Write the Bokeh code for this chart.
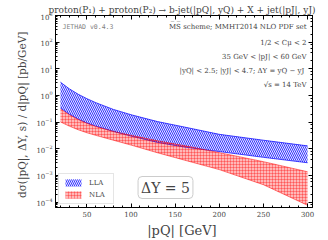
from bokeh.plotting import figure
from bokeh.models import (Range1d, LinearAxis, LogAxis, Label, Legend, LegendItem,
                          FixedTicker, Title)
from bokeh.embed import file_html
from bokeh.resources import INLINE

# ---- data ----
pt = [20, 30, 40, 50, 60, 80, 100, 130, 160, 200, 250, 300]
lla_hi = [3.16, 1.78, 1.12, 0.76, 0.54, 0.30, 0.19, 0.105, 0.066, 0.035, 0.021, 0.0129]
lla_lo = [0.34, 0.20, 0.13, 0.093, 0.071, 0.045, 0.030, 0.0174, 0.0117, 0.0079, 0.0048, 0.0030]
nla_hi = [0.31, 0.19, 0.126, 0.091, 0.069, 0.045, 0.032, 0.020, 0.0132, 0.0072, 0.0033, 0.00138]
nla_lo = [0.102, 0.071, 0.052, 0.040, 0.032, 0.021, 0.0138, 0.0071, 0.0038, 0.00166, 0.00045, 0.000076]
x_ticks = [50, 100, 150, 200, 250, 300]

SERIF = "DejaVu Serif"

p = figure(width=328, height=240, y_axis_type="log",
           x_range=Range1d(14.4, 305.6), y_range=Range1d(6.3e-5, 1000),
           output_backend="svg", toolbar_location=None,
           min_border_left=55, min_border_right=16, min_border_top=15, min_border_bottom=32)
p.title = Title(text="proton(P₁) + proton(P₂) → b-jet(|pQ|, yQ) + X + jet(|pJ|, yJ)",
                text_font=SERIF, text_font_size="9px", text_font_style="normal",
                align="right", offset=-3, standoff=1)
p.grid.visible = False
p.outline_line_color = "black"

# bands
b = p.varea(x=pt, y1=lla_lo, y2=lla_hi, fill_color="blue", fill_alpha=0.1,
            hatch_pattern="\\", hatch_color="blue", hatch_scale=4.0, hatch_weight=1.0,
            hatch_alpha=0.75)
p.line(pt, lla_hi, color="blue", line_width=1, alpha=0.7)
p.line(pt, lla_lo, color="blue", line_width=1, alpha=0.7)
r = p.varea(x=pt, y1=nla_lo, y2=nla_hi, fill_color="red", fill_alpha=0.28,
            hatch_pattern="+", hatch_color="red", hatch_scale=3.0, hatch_weight=0.7,
            hatch_alpha=0.45)
p.line(pt, nla_hi, color="red", line_width=1, alpha=0.5)
p.line(pt, nla_lo, color="red", line_width=1, alpha=0.5)

# axes styling
for ax in [p.xaxis[0], p.yaxis[0]]:
    ax.major_tick_in = 4
    ax.major_tick_out = 0
    ax.minor_tick_in = 2
    ax.minor_tick_out = 0
    ax.major_label_text_font = SERIF
    ax.major_label_text_font_size = "7px"
    ax.axis_label_text_font = SERIF
    ax.axis_label_text_font_style = "normal"
    ax.major_label_standoff = 3
p.xaxis[0].ticker = FixedTicker(ticks=x_ticks, minor_ticks=list(range(20, 301, 10)))
p.xaxis[0].axis_label = "|pQ|  [GeV]"
p.xaxis[0].axis_label_text_font_size = "13px"
p.xaxis[0].axis_label_standoff = 3
p.yaxis[0].axis_label = "dσ(|pQ|, ΔY, s) / d|pQ|   [pb/GeV]"
p.yaxis[0].axis_label_text_font_size = "10.5px"
p.yaxis[0].axis_label_standoff = 5

ra = LogAxis(major_tick_in=4, major_tick_out=0, minor_tick_in=2, minor_tick_out=0,
             major_label_text_color=None, major_label_text_font_size="1px",
             major_label_standoff=0)
p.add_layout(ra, "right")
ta = LinearAxis(major_tick_in=4, major_tick_out=0, minor_tick_in=2, minor_tick_out=0,
                major_label_text_color=None, major_label_text_font_size="1px",
                major_label_standoff=0,
                ticker=FixedTicker(ticks=x_ticks, minor_ticks=list(range(20, 301, 10))))
p.add_layout(ta, "above")

# annotations
p.add_layout(Label(x=7, y=177, x_units="screen", y_units="screen", text="JETHAD v0.4.3",
                   text_font="DejaVu Sans Mono", text_font_size="6.5px", text_color="gray"))
ann = [("M̅S̅ scheme; MMHT2014 NLO PDF set", 177),
       ("1/2 < Cμ < 2", 161),
       ("35 GeV < |pJ| < 60 GeV", 147),
       ("|yQ| < 2.5;  |yJ| < 4.7; ΔY = yQ − yJ", 133),
       ("√s = 14 TeV", 119)]
for t, yy in ann:
    p.add_layout(Label(x=251, y=yy, x_units="screen", y_units="screen", text=t,
                       text_align="right", text_font=SERIF, text_font_size="7px"))

p.add_layout(Label(x=110, y=9, x_units="screen", y_units="screen", text="ΔY = 5",
                   text_align="center", text_font=SERIF, text_font_size="14px",
                   border_line_color="#cccccc", border_line_width=1,
                   background_fill_color="white", background_fill_alpha=0.9,
                   padding=3, border_radius=4))

leg = Legend(items=[LegendItem(label="LLA", renderers=[b]),
                    LegendItem(label="NLA", renderers=[r])],
             location="bottom_left", label_text_font=SERIF, label_text_font_size="7px",
             glyph_width=20, glyph_height=9, label_height=9, spacing=3, padding=4,
             margin=3, border_line_color="#cccccc", label_standoff=6)
p.add_layout(leg)

open("out.html", "w").write(file_html(p, INLINE))
